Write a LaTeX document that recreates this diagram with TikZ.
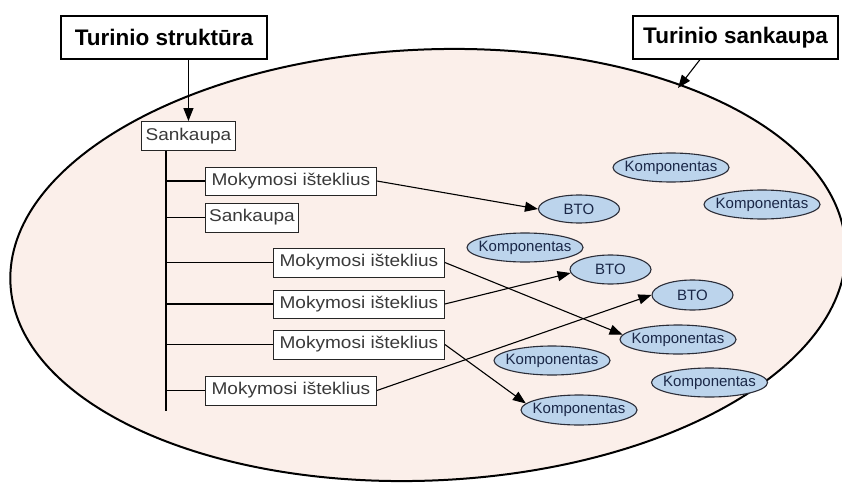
\documentclass[tikz,border=0pt]{standalone}
\usepackage{fontspec}
\setmainfont{Liberation Sans}
\newfontfamily\boxfont[FakeStretch=1.12]{Liberation Sans}
\usetikzlibrary{shapes.geometric,arrows.meta}
\definecolor{bgpink}{HTML}{FBEFEA}
\definecolor{ovalblue}{HTML}{BCD4EC}
\definecolor{ovalline}{HTML}{2B2D38}
\definecolor{ovaltext}{HTML}{1A2747}
\definecolor{boxtext}{HTML}{3A3A3A}
\tikzset{
  titlebox/.style={draw=black, line width=1.1pt, fill=white, inner sep=0pt,
    minimum height=43pt, font=\fontsize{22.5}{26}\selectfont\bfseries, text=black},
  itembox/.style={draw=black!85, line width=0.9pt, fill=white, inner sep=0pt,
    minimum height=29pt, font=\boxfont\fontsize{17}{20}\selectfont, text=boxtext, anchor=west},
  oval/.style={ellipse, draw=ovalline, line width=1.1pt, fill=ovalblue, inner xsep=-30pt, inner ysep=0pt,
    minimum height=29pt, font=\fontsize{15}{18}\selectfont, text=ovaltext},
  komp/.style={oval, minimum width=116pt},
  btobox/.style={oval, minimum width=81pt},
  link/.style={line width=1.1pt, black, -{Triangle[length=13pt,width=10pt]}},
  branch/.style={line width=1.1pt, black},
}
\begin{document}
\begin{tikzpicture}[x=1pt,y=-1pt]
\useasboundingbox (0,0) rectangle (842,484);
% big ellipse
\node[ellipse, draw=black, line width=2pt, fill=bgpink, minimum width=836pt,
      minimum height=431pt, inner sep=0pt, rotate=2.5] (big) at (428,265) {};
% titles
\node[titlebox, minimum width=206pt] (ts) at (164,37.5) {Turinio struktūra};
\node[titlebox, minimum width=205pt] (tsk) at (735.5,37.5) {Turinio sankaupa};
\coordinate (tip) at (678,88);
\draw[link] (tsk.south -| 700,0) -- (tip);
% tree
\node[itembox, minimum width=94pt] (s1) at (141,136) {Sankaupa};
\draw[link] (ts.south -| s1) -- (s1.north);
\coordinate (trunkend) at (166,411);
\draw[branch] (s1.south -| trunkend) -- (trunkend);
\node[itembox, minimum width=171pt, minimum height=28pt] (m1) at (205,181) {Mokymosi išteklius};
\node[itembox, minimum width=93pt] (s2) at (205,217.5) {Sankaupa};
\node[itembox, minimum width=171pt] (m3) at (273,262.5) {Mokymosi išteklius};
\node[itembox, minimum width=171pt, minimum height=28pt] (m4) at (273,304) {Mokymosi išteklius};
\node[itembox, minimum width=171pt] (m5) at (273,344.5) {Mokymosi išteklius};
\node[itembox, minimum width=171pt] (m6) at (205,390.5) {Mokymosi išteklius};
\foreach \n in {m1,s2,m3,m4,m5,m6}
  \draw[branch] (\n.west -| trunkend) -- (\n.west);
% ovals
\node[komp] (k1) at (671,167.5) {Komponentas};
\node[btobox, minimum height=28pt] (b1) at (579,209) {BTO};
\node[komp] (k2) at (762,204.5) {Komponentas};
\node[komp] (k3) at (525,247.5) {Komponentas};
\node[btobox] (b2) at (610.5,269.5) {BTO};
\node[btobox, minimum height=30pt] (b3) at (692.5,295) {BTO};
\node[komp] (k4) at (678,339.5) {Komponentas};
\node[komp] (k5) at (552,360.5) {Komponentas};
\node[komp] (k6) at (709.5,382.5) {Komponentas};
\node[komp, minimum height=30pt] (k7) at (579,410) {Komponentas};
% links
\draw[link] (m1.east) -- (b1.west);
\draw[link] (m3.east) -- (k4.175);
\draw[link] (m4.east) -- (b2.185);
\draw[link] (m5.east) -- (k7.173);
\draw[link] (m6.east) -- (b3.west);
\end{tikzpicture}
\end{document}
